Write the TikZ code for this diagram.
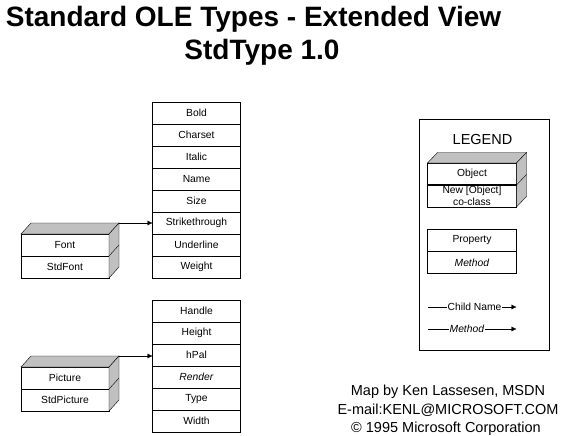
\documentclass[tikz,border=0pt]{standalone}
\usepackage{fontspec}
\setmainfont{Liberation Sans}
\usetikzlibrary{arrows.meta,positioning}
\definecolor{facegray}{RGB}{192,192,192}
\tikzset{
  boxfont/.style={font=\fontsize{10.3}{11}\selectfont},
  prop/.style={draw, boxfont, minimum width=88pt, minimum height=22pt, inner sep=0pt, outer sep=0pt},
  objrow/.style={draw, boxfont, minimum width=88pt, minimum height=22pt, inner sep=0pt, outer sep=0pt},
  face/.style={draw, fill=facegray},
  child/.style={-{Latex[length=5pt,width=5pt]}},
  bigtext/.style={font=\fontsize{14.5}{17}\selectfont},
}
\begin{document}
\begin{tikzpicture}[x=1pt,y=-1pt]
\useasboundingbox (0,0) rectangle (576,436);

% title
\node[anchor=base, font=\fontsize{28}{32}\selectfont\bfseries] (title) at (253.5,27) {Standard OLE Types - Extended View};
\node[anchor=base, font=\fontsize{28}{32}\selectfont\bfseries] (version) at (262,59.5) {StdType 1.0};

% Font properties
\foreach \txt [count=\i from 0] in {Bold,Charset,Italic,Name,Size,Strikethrough,Underline,Weight}
  \node[prop] (fp\i) at (196.5,113+22*\i) {\txt};

% Picture properties
\foreach \txt [count=\i from 0] in {Handle,Height,hPal,\textit{Render},Type,Width}
  \node[prop] (pp\i) at (196.5,311+22*\i) {\txt};

% Font object
\node[objrow] (fontObj) at (65,245) {Font};
\node[objrow, below=0pt of fontObj] (fontCls) {StdFont};
\draw[face] (fontObj.north west) -- ++(10,-11) -- ++(88,0) -- (fontObj.north east) -- cycle;
\draw[face] (fontObj.north east) -- ++(10,-11) -- ++(0,44) -- (fontCls.south east) -- cycle;
\draw (fontObj.south east) -- ++(10,-11);
\path (fontObj.north east) ++(10,-11) coordinate (fontCorner);
\draw[child] (fontCorner) -- (fontCorner -| fp5.west);

% Picture object
\node[objrow] (picObj) at (65,378) {Picture};
\node[objrow, below=0pt of picObj] (picCls) {StdPicture};
\draw[face] (picObj.north west) -- ++(10,-11) -- ++(88,0) -- (picObj.north east) -- cycle;
\draw[face] (picObj.north east) -- ++(10,-11) -- ++(0,44) -- (picCls.south east) -- cycle;
\draw (picObj.south east) -- ++(10,-11);
\path (picObj.north east) ++(10,-11) coordinate (picCorner);
\draw[child] (picCorner) -- (picCorner -| pp2.west);

% legend
\node[draw, minimum width=130pt, minimum height=231pt] (legend) at (484.5,234.5) {};
\node[bigtext] (legendTitle) at (482.5,139.5) {LEGEND};
\node[objrow, minimum width=89pt] (legObj) at (472,174) {Object};
\node[objrow, minimum width=89pt, below=0pt of legObj, align=center,
  font=\fontsize{10.3}{11.5}\selectfont] (legCls) {New [Object]\\co-class};
\draw[face] (legObj.north west) -- ++(10,-10.5) -- ++(89,0) -- (legObj.north east) -- cycle;
\draw[face] (legObj.north east) -- ++(10,-10.5) -- ++(0,44) -- (legCls.south east) -- cycle;
\draw (legObj.south east) -- ++(10,-10.5);
\draw[line width=1.3pt] (legObj.south west) -- (legObj.south east);
\node[prop, minimum width=89pt] (legProp) at (472,240.5) {Property};
\node[prop, minimum width=89pt, below=0pt of legProp] (legMeth) {\textit{Method}};

\coordinate (childA) at (427.5,307);
\coordinate (childB) at (516.5,307);
\draw[child] (childA) -- (childB);
\node[boxfont, fill=white, inner sep=1pt] (childLbl) at (474.5,307) {Child Name};
\coordinate (methA) at (427.5,329);
\coordinate (methB) at (516.5,329);
\draw[child] (methA) -- (methB);
\node[boxfont, fill=white, inner sep=1pt] (methLbl) at (467,329) {\textit{Method}};

% credits
\node[bigtext, anchor=base] (credit1) at (448,395) {Map by Ken Lassesen, MSDN};
\node[bigtext, anchor=base] (credit2) at (448,414) {E-mail:KENL@MICROSOFT.COM};
\node[bigtext, anchor=base] (credit3) at (446,432.5) {© 1995 Microsoft Corporation};
\end{tikzpicture}
\end{document}
